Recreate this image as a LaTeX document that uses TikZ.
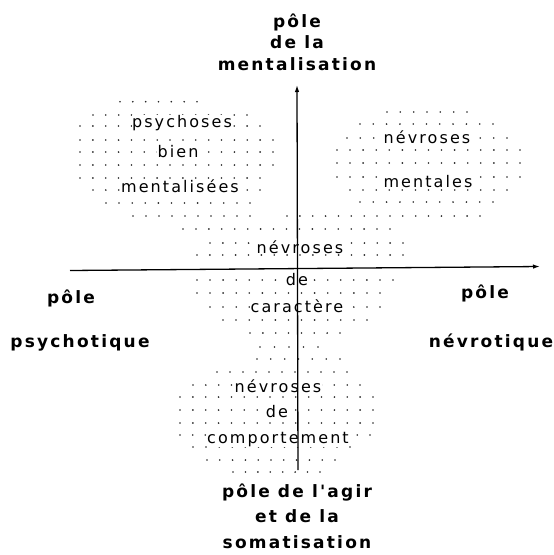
\documentclass[tikz,border=0pt]{standalone}
\usepackage{fontspec}
\setmainfont{DejaVu Sans}
\newfontfamily\regfont{DejaVu Sans}[LetterSpace=13]
\newfontfamily\polefont{DejaVu Sans}[LetterSpace=13]
\usetikzlibrary{arrows.meta}
\tikzset{
  reg/.style={font=\regfont\fontsize{16}{18}\selectfont, fill=white, inner sep=0.3pt, anchor=base},
  pole/.style={font=\polefont\bfseries\fontsize{17}{19}\selectfont, inner sep=0pt, anchor=base},
  axis/.style={line width=1.3pt, -{Latex[length=7pt,width=4.5pt]}},
  dot/.style={fill=black!85}
}
\begin{document}
\begin{tikzpicture}[x=1pt,y=-1pt]
\useasboundingbox (0,0) rectangle (554,555);
% dotted regions
\foreach \yy/\xa/\xb in {
  101.7/120/197, 115/93/247, 126/80/260, 140/80/273, 152/80/273, 165/80/273,
  178/80/260, 190/93/260, 203/106/250, 216/133/250,
  112/387/467, 124/360/493, 138/347/507, 150/337/520, 163/337/520, 177/337/520,
  190/350/507, 202/360/493,
  216/287/480, 229/183/390, 243/210/403, 255/197/403,
  280/197/393, 293/197/380, 307/210/380, 320/223/367, 333/250/340, 347/260/318,
  359/257/340, 372/217/347, 385/193/360, 397/180/373, 410/180/373, 423/180/373,
  435/180/370, 447/193/350, 460/207/335, 472/233/320}{
  \pgfmathtruncatemacro\nn{round((\xb-\xa)/13)}
  \foreach \k in {0,...,\nn}{
    \fill[dot] ({\xa+\k*(\xb-\xa)/\nn},\yy) circle (0.9pt);
  }
}
% region labels
\node[reg] (psy1) at (182,127) {psychoses};
\node[reg] (psy2) at (178,157) {bien};
\node[reg] (psy3) at (180,192) {mentalisées};
\node[reg] (nm1) at (427,143) {névroses};
\node[reg] (nm2) at (428,187) {mentales};
\node[reg] (nc1) at (300,253) {névroses};
\node[reg] (nc2) at (297,285) {de};
\node[reg] (nc3) at (297,312) {caractère};
\node[reg] (nb1) at (278,392) {névroses};
\node[reg] (nb2) at (277,417) {de};
\node[reg] (nb3) at (278,443) {comportement};
% pole labels
\node[pole] (t1) at (297,27) {pôle};
\node[pole] (t2) at (297,48) {de la};
\node[pole] (t3) at (297,70) {mentalisation};
\node[pole] (l1) at (71,303) {pôle};
\node[pole] (l2) at (80,347) {psychotique};
\node[pole] (r1) at (485,298) {pôle};
\node[pole] (r2) at (491,347) {névrotique};
\node[pole] (b1) at (297,497) {pôle de l'agir};
\node[pole] (b2) at (297,522) {et de la};
\node[pole] (b3) at (297,548) {somatisation};
% axes
\coordinate (ybot) at (298,470);
\coordinate (ytop) at (297,85);
\coordinate (xl) at (70,270.5);
\coordinate (xr) at (540,266.5);
\draw[axis] (ybot) -- (ytop);
\draw[axis] (xl) -- (xr);
\end{tikzpicture}
\end{document}
